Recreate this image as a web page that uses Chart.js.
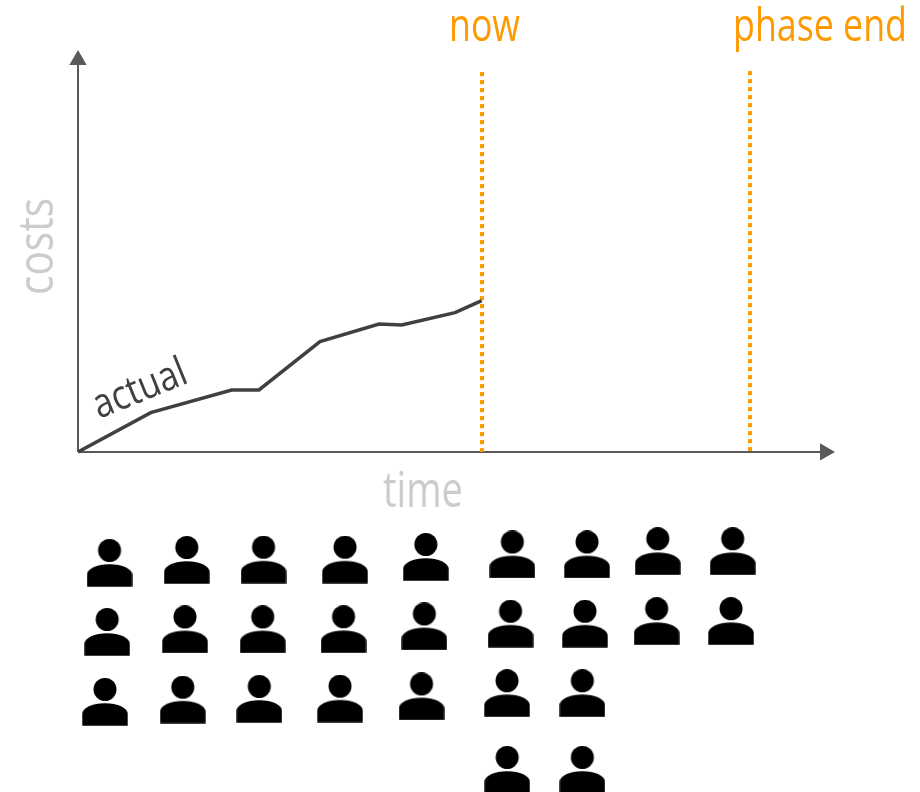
<!DOCTYPE html>
<html>
<head>
<meta charset="utf-8">
<style>
  html, body { margin: 0; padding: 0; background: #ffffff; overflow: hidden; }
  canvas { display: block; }
</style>
<script src="https://cdn.jsdelivr.net/npm/chart.js@4/dist/chart.umd.min.js"></script>
</head>
<body>
<canvas id="chart" width="920" height="792"></canvas>
<script>
// Actual cost curve, time and cost in percent of the axis length
const actualTime = [0, 9.62, 20.33, 23.94, 32.01, 39.82, 42.82, 49.87, 53.4];
const actualCost = [0, 9.78, 15.42, 15.42, 27.44, 31.84, 31.59, 34.65, 37.64];

// Project milestones
const nowTime = 53.44;
const phaseEndTime = 88.89;
const nowLineTop = 94.5;
const phaseEndLineTop = 94.75;

// Axis ends, where the arrowheads sit
const timeAxisEnd = 98.81;
const costAxisEnd = 97.5;

// Team members below the plot, column by column
const peopleX = [
  4.17, 3.86, 3.57,
  14.39, 14.15, 13.86,
  24.54, 24.43, 23.98,
  35.32, 35.12, 34.66,
  46.01, 45.81, 45.44,
  57.45, 57.21, 56.75, 56.77,
  67.33, 67.06, 66.71, 66.71,
  76.69, 76.54,
  86.60, 86.38
];
const peopleY = [
  -27.61, -44.78, -62.19,
  -26.87, -44.15, -61.62,
  -26.79, -44.15, -61.44,
  -26.79, -44.10, -61.37,
  -26.12, -43.41, -60.82,
  -25.50, -42.74, -60.02, -79.10,
  -25.50, -42.74, -60.02, -79.10,
  -24.70, -42.09,
  -24.70, -42.09
];

const ORANGE = '#ff9900';
const INK = '#404040';
const AXIS = '#595959';
const MUTED = '#cccccc';
const LABEL_FONT = '"Open Sans", "Lato", sans-serif';

// Person glyph used as the point style of the team dataset
function makePersonGlyph() {
  const c = document.createElement('canvas');
  c.width = 46;
  c.height = 48;
  const g = c.getContext('2d');
  g.fillStyle = '#000000';
  g.beginPath();
  g.arc(23, 11.5, 11.5, 0, Math.PI * 2);
  g.fill();
  g.beginPath();
  g.moveTo(0.3, 47.8);
  g.lineTo(0.3, 36);
  g.ellipse(23, 36, 22.7, 10.8, 0, Math.PI, Math.PI * 2);
  g.lineTo(45.7, 47.8);
  g.closePath();
  g.fill();
  return c;
}

function zipPoints(xs, ys) {
  return xs.map((x, i) => ({ x: x, y: ys[i] }));
}

function vertical(x, top) {
  return [{ x: x, y: top }, { x: x, y: 0 }];
}

function drawText(ctx, text, x, y, font, color, maxWidth, angle) {
  ctx.save();
  ctx.translate(x, y);
  ctx.rotate(angle || 0);
  ctx.font = font;
  ctx.fillStyle = color;
  ctx.textAlign = 'left';
  ctx.textBaseline = 'alphabetic';
  ctx.fillText(text, 0, 0, maxWidth);
  ctx.restore();
}

// Milestone names, axis names and the inline series label
const chartText = {
  id: 'chartText',
  afterDatasetsDraw(chart) {
    const ctx = chart.ctx;
    drawText(ctx, 'now', 449, 41, '400 45px ' + LABEL_FONT, ORANGE, 71);
    drawText(ctx, 'phase end', 733, 41, '400 45px ' + LABEL_FONT, ORANGE, 174);
    drawText(ctx, 'time', 383, 507, '400 50px ' + LABEL_FONT, MUTED, 80);
    drawText(ctx, 'costs', 53, 295, '400 50px ' + LABEL_FONT, MUTED, 97, -Math.PI / 2);
    drawText(ctx, 'actual', 99, 419, '400 41px ' + LABEL_FONT, INK, 98, -22 * Math.PI / 180);
  }
};

new Chart(document.getElementById('chart'), {
  type: 'scatter',
  plugins: [chartText],
  data: {
    datasets: [
      {
        label: 'actual',
        data: zipPoints(actualTime, actualCost),
        showLine: true,
        borderColor: INK,
        borderWidth: 3.5,
        tension: 0,
        pointRadius: 0,
        borderJoinStyle: 'miter'
      },
      {
        label: 'now',
        data: vertical(nowTime, nowLineTop),
        showLine: true,
        borderColor: ORANGE,
        borderWidth: 4,
        borderDash: [4, 4],
        pointRadius: 0
      },
      {
        label: 'phase end',
        data: vertical(phaseEndTime, phaseEndLineTop),
        showLine: true,
        borderColor: ORANGE,
        borderWidth: 4,
        borderDash: [4, 4],
        pointRadius: 0
      },
      {
        label: 'time',
        data: [{ x: 0, y: 0 }, { x: timeAxisEnd, y: 0 }],
        showLine: true,
        borderColor: AXIS,
        borderWidth: 2,
        pointStyle: 'triangle',
        rotation: 90,
        pointRadius: [0, 10],
        pointBorderWidth: 0,
        pointBackgroundColor: AXIS,
        clip: false
      },
      {
        label: 'costs',
        data: [{ x: 0, y: 0 }, { x: 0, y: costAxisEnd }],
        showLine: true,
        borderColor: AXIS,
        borderWidth: 2,
        pointStyle: 'triangle',
        rotation: 0,
        pointRadius: [0, 10],
        pointBorderWidth: 0,
        pointBackgroundColor: AXIS,
        clip: false
      },
      {
        label: 'team',
        data: zipPoints(peopleX, peopleY),
        showLine: false,
        pointStyle: makePersonGlyph(),
        pointRadius: 24,
        clip: false
      }
    ]
  },
  options: {
    responsive: false,
    animation: false,
    layout: { autoPadding: false, padding: { left: 78, right: 86, top: 50, bottom: 0 } },
    plugins: {
      legend: { display: false },
      tooltip: { enabled: false }
    },
    scales: {
      x: { type: 'linear', min: 0, max: 100, display: false },
      y: { type: 'linear', min: -84.6, max: 100, display: false }
    }
  }
});
</script>
</body>
</html>
